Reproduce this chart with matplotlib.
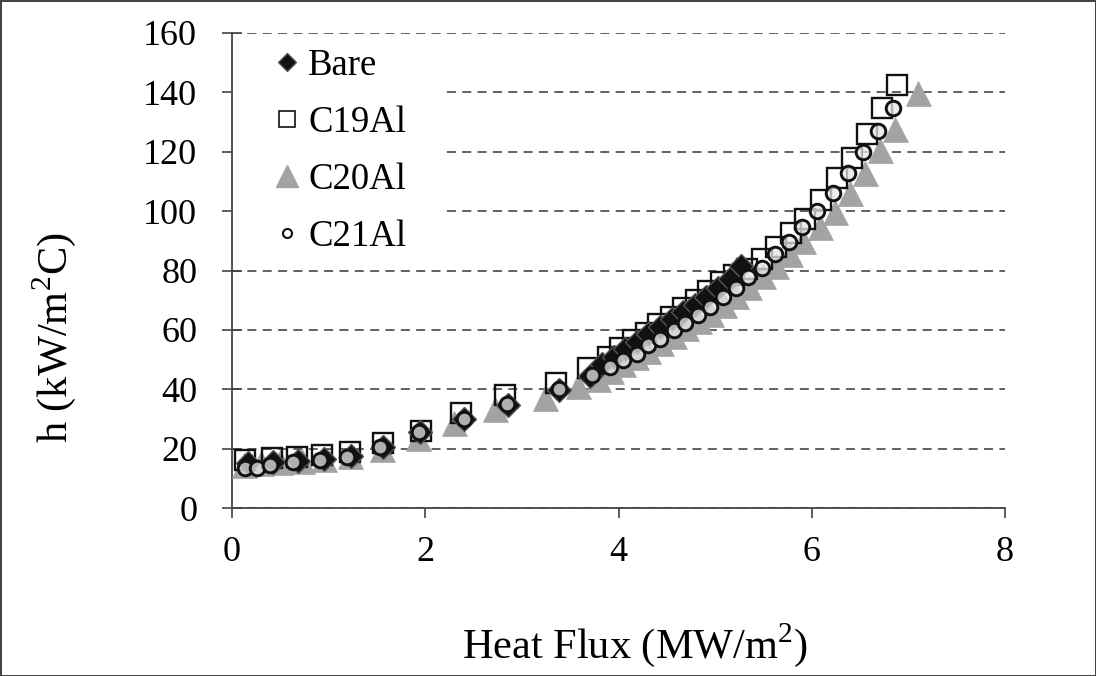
import matplotlib
matplotlib.use("Agg")
import matplotlib.pyplot as plt
from matplotlib.lines import Line2D
from matplotlib.patches import Rectangle

plt.rcParams['font.family'] = ['Liberation Serif', 'DejaVu Serif']
plt.rcParams['mathtext.fontset'] = 'custom'
plt.rcParams['mathtext.rm'] = 'Liberation Serif'

# heat flux (MW/m2) and heat transfer coefficient h (kW/m2C)
bare_q = [0.17, 0.42, 0.68, 0.95, 1.23, 1.56, 1.95, 2.40, 2.86, 3.38, 3.70,
          3.83, 3.95, 4.07, 4.19, 4.31, 4.43, 4.55, 4.67, 4.79, 4.91, 5.03, 5.15, 5.27]
bare_h = [15.0, 15.5, 16.0, 16.5, 17.5, 20.5, 25.5, 30.0, 34.7, 39.7, 44.5,
          48.5, 51.0, 53.5, 56.0, 58.5, 61.0, 63.5, 66.0, 68.5, 71.0, 74.0, 77.0, 81.5]

c19_q = [0.13, 0.41, 0.67, 0.93, 1.22, 1.56, 1.96, 2.37, 2.82, 3.35, 3.68, 3.89,
         4.02, 4.15, 4.28, 4.41, 4.54, 4.67, 4.80, 4.93, 5.06, 5.19, 5.33, 5.48,
         5.63, 5.78, 5.93, 6.10, 6.26, 6.42, 6.57, 6.73, 6.88]
c19_h = [16.2, 16.8, 17.2, 17.8, 18.9, 21.9, 26.0, 32.0, 38.0, 42.0, 47.0, 51.0,
         54.0, 56.5, 59.0, 62.0, 64.5, 67.5, 70.0, 73.0, 76.0, 78.5, 80.5, 84.0,
         88.0, 92.5, 97.5, 103.7, 111.0, 118.0, 126.0, 134.7, 142.4]

c20_q = [0.12, 0.30, 0.50, 0.72, 0.95, 1.22, 1.55, 1.92, 2.30, 2.72, 3.24, 3.58,
         3.79, 3.92, 4.05, 4.18, 4.31, 4.44, 4.57, 4.70, 4.83, 4.96, 5.09, 5.22,
         5.35, 5.49, 5.63, 5.77, 5.91, 6.09, 6.24, 6.40, 6.55, 6.71, 6.86, 7.10]
c20_h = [14.5, 15.0, 15.5, 16.0, 16.5, 17.5, 19.8, 23.5, 28.5, 33.5, 37.0, 41.0,
         43.5, 46.0, 48.5, 51.0, 53.0, 55.5, 58.0, 60.5, 63.0, 65.5, 68.5, 71.5,
         74.5, 78.0, 81.5, 85.5, 90.0, 94.5, 99.7, 106.0, 113.0, 120.5, 127.5, 139.7]

c21_q = [0.13, 0.26, 0.39, 0.63, 0.91, 1.19, 1.53, 1.93, 2.40, 2.85, 3.38, 3.73,
         3.91, 4.05, 4.19, 4.31, 4.43, 4.57, 4.69, 4.82, 4.95, 5.08, 5.22, 5.34,
         5.48, 5.62, 5.76, 5.90, 6.05, 6.22, 6.38, 6.53, 6.69, 6.84]
c21_h = [13.5, 13.5, 14.5, 15.5, 16.2, 17.2, 20.5, 25.6, 30.0, 35.0, 40.0, 44.8,
         47.5, 49.8, 52.0, 55.0, 57.0, 60.0, 62.4, 65.0, 67.7, 71.0, 74.2, 77.8,
         81.0, 85.5, 89.6, 94.6, 100.0, 106.0, 113.0, 120.0, 127.0, 134.7]

labels = ['Bare', 'C19Al', 'C20Al', 'C21Al']

tri_col = '#a3a3a3'
ring_fill = (0.9, 0.9, 0.9, 0.75)

fig = plt.figure(figsize=(10.96, 6.76), dpi=100, linewidth=2, edgecolor='#444444')
ax = fig.add_axes([0.2117, 0.2485, 0.7053, 0.7027])

ax.plot(c20_q, c20_h, ls='none', marker='^', ms=18, mfc=tri_col, mec=tri_col,
        mew=0.5, zorder=3)
ax.plot(c19_q, c19_h, ls='none', marker='s', ms=14, mfc='none', mec='#111111',
        mew=1.7, zorder=4)
ax.plot(bare_q, bare_h, ls='none', marker='D', ms=12, mfc='#111111', mec='#555555',
        mew=1.0, zorder=5)
ax.plot(c21_q, c21_h, ls='none', marker='o', ms=10.5, mfc=ring_fill, mec='#111111',
        mew=2.1, zorder=6)

ax.set_xlim(0, 8)
ax.set_ylim(0, 160)
ax.set_xticks([0, 2, 4, 6, 8])
ax.set_yticks(range(0, 161, 20))
ax.yaxis.grid(True, color='#555555', linestyle=(0, (5, 3.5)), linewidth=1.3)
ax.set_axisbelow(True)
for s in ['top', 'right']:
    ax.spines[s].set_visible(False)
for s in ['left', 'bottom']:
    ax.spines[s].set_color('#444444')
    ax.spines[s].set_linewidth(1.3)
ax.tick_params(axis='y', direction='inout', length=14, width=1.2, color='#444444',
               labelsize=26, pad=18)
ax.tick_params(axis='x', direction='out', length=7, width=1.2, color='#444444',
               labelsize=26, pad=13)

ax.set_xlabel('Heat Flux (MW/m$^2$)', fontsize=30.5)
ax.xaxis.set_label_coords(0.521, -0.238)
ax.set_ylabel('h (kW/m$^2$C)', fontsize=30.5)
ax.yaxis.set_label_coords(-0.199, 0.358)

# white block behind the legend hides the grid lines there
ax.add_patch(Rectangle((0.0, 0.518), 0.273, 0.467, transform=ax.transAxes,
                       facecolor='white', edgecolor='none', zorder=2))

handles = [
    Line2D([], [], ls='none', marker='D', ms=9.5, mfc='#111111', mec='#555555', mew=1.0),
    Line2D([], [], ls='none', marker='s', ms=12, mfc='none', mec='#111111', mew=1.2),
    Line2D([], [], ls='none', marker='^', ms=16, mfc=tri_col, mec=tri_col),
    Line2D([], [], ls='none', marker='o', ms=6.5, mfc='white', mec='#111111', mew=1.5),
]
leg = ax.legend(handles, labels, loc='upper left', bbox_to_anchor=(0.0517, 0.968),
                fontsize=26.5, frameon=False, handlelength=0.8,
                handletextpad=0.18, labelspacing=0.61, borderpad=0.0,
                borderaxespad=0.0)
leg.set_zorder(10)

fig.savefig('out.png', dpi=100)
